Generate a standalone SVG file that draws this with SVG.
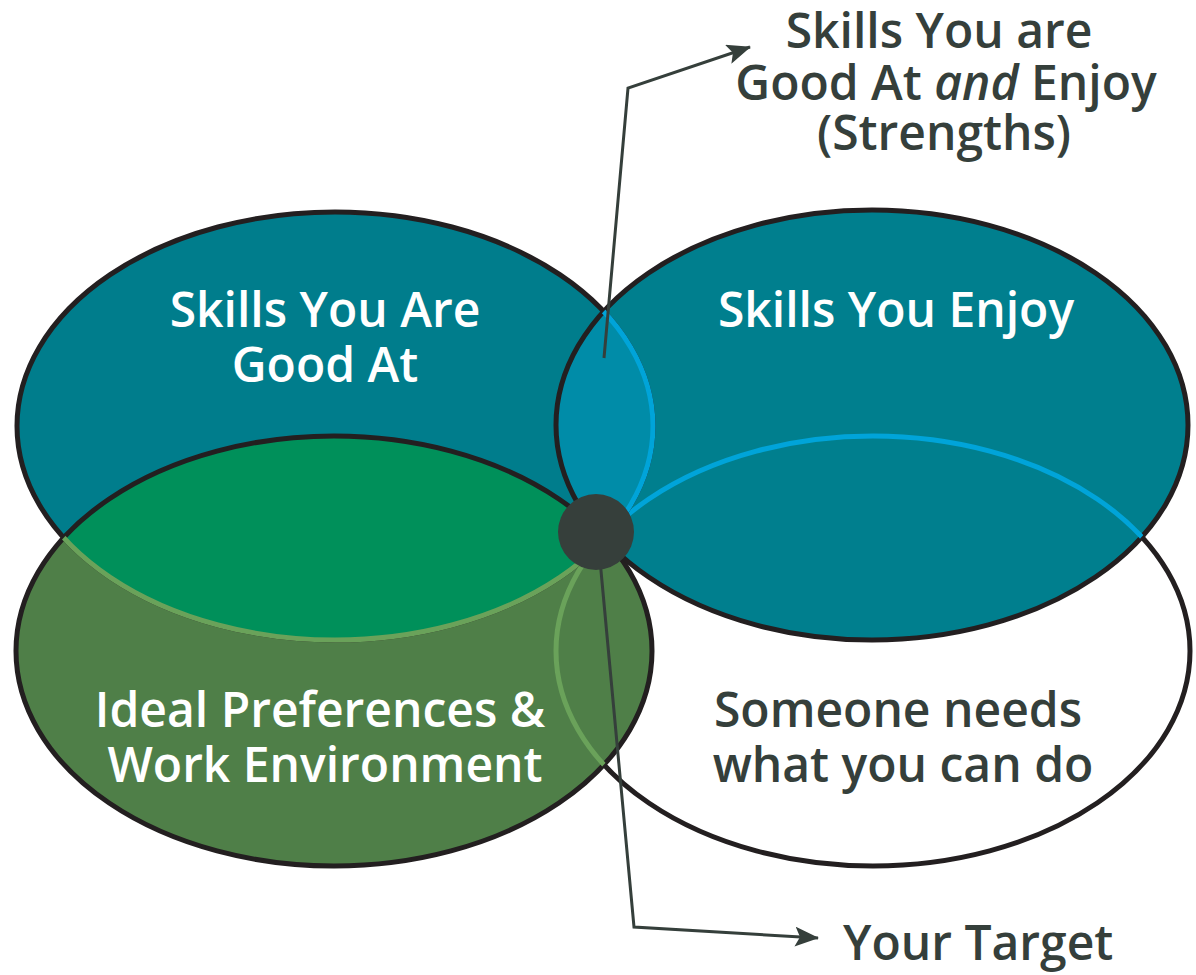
<svg xmlns="http://www.w3.org/2000/svg" width="1196" height="975" viewBox="0 0 1196 975">
<style>
.lbl{font-family:"Open Sans","Liberation Sans",sans-serif;font-size:48px;font-weight:600;text-anchor:middle}
.w{fill:#ffffff}
.d{fill:#353f3b}
.blk{fill:none;stroke:#231f20;stroke-width:5}
.lg{fill:none;stroke:#6aa25a;stroke-width:5}
.lb{fill:none;stroke:#00a4d9;stroke-width:5}
.conn{fill:none;stroke:#353f3b;stroke-width:3}
</style>
<defs>
<ellipse id="eTL" cx="335" cy="426" rx="318" ry="214"/>
<ellipse id="eTR" cx="872" cy="425" rx="316" ry="215"/>
<ellipse id="eBL" cx="334" cy="651" rx="318" ry="215"/>
<ellipse id="eBR" cx="873" cy="651" rx="317" ry="215"/>
<clipPath id="cTL"><use href="#eTL"/></clipPath>
<clipPath id="cTR"><use href="#eTR"/></clipPath>
<clipPath id="cBL"><use href="#eBL"/></clipPath>
<marker id="ah" viewBox="0 0 10 10" refX="9" refY="5" markerWidth="9" markerHeight="9" markerUnits="userSpaceOnUse" orient="auto">
<path d="M0,0 L10,5 L0,10 L2.5,5 z" fill="#353f3b"/>
</marker>
<marker id="ah2" viewBox="0 0 24 20" refX="23" refY="10" markerWidth="24" markerHeight="20" markerUnits="userSpaceOnUse" orient="auto">
<path d="M0,0 L24,10 L0,20 L5,10 z" fill="#353f3b"/>
</marker>
</defs>
<g id="node-someone-needs">
<use href="#eBR" fill="#ffffff"/>
<use href="#eBR" class="blk"/>
</g>
<g id="node-ideal-preferences">
<use href="#eBL" fill="#4f7f48"/>
<use href="#eBL" class="blk"/>
<use href="#eBR" class="lg" clip-path="url(#cBL)"/>
</g>
<g id="node-skills-enjoy">
<use href="#eTR" fill="#007f8e"/>
<use href="#eTR" class="blk"/>
<use href="#eBR" class="lb" clip-path="url(#cTR)"/>
</g>
<g id="node-skills-good-at">
<use href="#eTL" fill="#007d8c"/>
<use href="#eTL" class="blk"/>
<use href="#eTL" fill="#00905a" clip-path="url(#cBL)"/>
<use href="#eTL" fill="#008ca8" clip-path="url(#cTR)"/>
<use href="#eBL" class="blk" clip-path="url(#cTL)"/>
<use href="#eTR" class="blk" clip-path="url(#cTL)"/>
<use href="#eTL" class="lg" clip-path="url(#cBL)"/>
<use href="#eTL" class="lb" clip-path="url(#cTR)"/>
</g>
<g id="connectors">
<polyline class="conn" points="604,358 628,88 750,47" marker-end="url(#ah2)"/>
<polyline class="conn" points="600,560 634,927 818,938" marker-end="url(#ah2)"/>
</g>
<g id="node-target">
<circle cx="596" cy="532" r="38" fill="#363f3b"/>
</g>
<g id="labels">
<text class="lbl w" x="325" y="327">Skills You Are</text>
<text class="lbl w" x="325" y="382">Good At</text>
<text class="lbl w" x="896" y="327">Skills You Enjoy</text>
<text class="lbl w" x="320" y="727">Ideal Preferences &amp;</text>
<text class="lbl w" x="325" y="782">Work Environment</text>
<text class="lbl d" x="898" y="727">Someone needs</text>
<text class="lbl d" x="903" y="782">what you can do</text>
<text class="lbl d" x="939" y="48">Skills You are</text>
<text class="lbl d" x="946" y="100">Good At <tspan font-style="italic">and</tspan> Enjoy</text>
<text class="lbl d" x="944" y="150">(Strengths)</text>
<text class="lbl d" x="843" y="960" style="text-anchor:start">Your Target</text>
</g>
</svg>
